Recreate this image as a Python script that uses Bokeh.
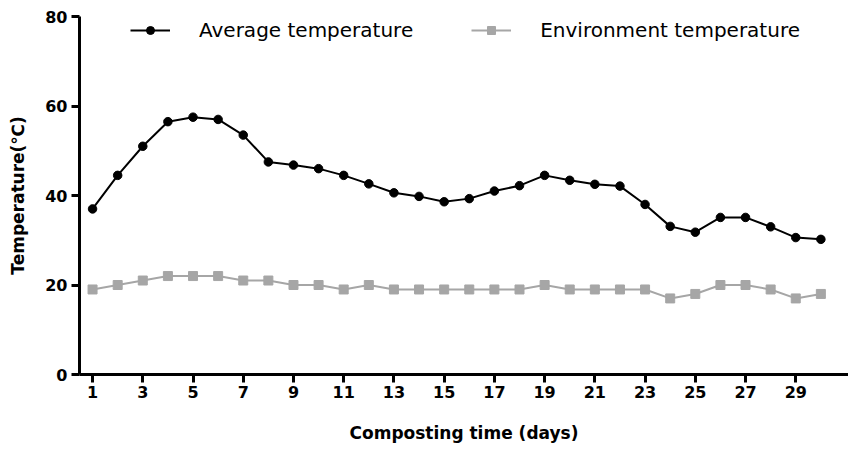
from bokeh.plotting import figure
from bokeh.models import Range1d, FixedTicker, Legend, LegendItem, ColumnDataSource
from bokeh.embed import file_html
from bokeh.resources import INLINE

days = list(range(1, 31))
avg_temp = [37.0, 44.5, 51.0, 56.5, 57.5, 57.0, 53.5, 47.5, 46.8, 46.0,
            44.5, 42.6, 40.6, 39.8, 38.6, 39.3, 41.0, 42.2, 44.5, 43.4,
            42.5, 42.1, 38.0, 33.1, 31.8, 35.1, 35.1, 33.0, 30.6, 30.2]
env_temp = [19, 20, 21, 22, 22, 22, 21, 21, 20, 20,
            19, 20, 19, 19, 19, 19, 19, 19, 20, 19,
            19, 19, 19, 17, 18, 20, 20, 19, 17, 18]
x_ticks = list(range(1, 30, 2))
y_ticks = [0, 20, 40, 60, 80]

FONT = "DejaVu Sans"

src = ColumnDataSource(dict(day=days, avg=avg_temp, env=env_temp))

p = figure(width=848, height=450, output_backend="svg", toolbar_location=None,
           x_range=Range1d(0.48, 31.1), y_range=Range1d(0, 80))
p.min_border_left = 79
p.min_border_right = 0
p.min_border_top = 16
p.min_border_bottom = 76
p.outline_line_color = None
p.xgrid.visible = False
p.ygrid.visible = False
p.background_fill_color = "white"
p.border_fill_color = "white"

env_line = p.line("day", "env", source=src, line_color="#A6A6A6", line_width=2)
env_pts = p.scatter("day", "env", source=src, marker="square", size=9,
                    fill_color="#A6A6A6", line_color="#A6A6A6")
avg_line = p.line("day", "avg", source=src, line_color="black", line_width=2)
avg_pts = p.scatter("day", "avg", source=src, marker="circle", size=8.5,
                    fill_color="black", line_color="black")

for ax in (p.xaxis[0], p.yaxis[0]):
    ax.axis_line_width = 3
    ax.axis_line_color = "black"
    ax.major_tick_line_width = 3
    ax.major_tick_line_color = "black"
    ax.major_tick_out = 8
    ax.major_tick_in = 0
    ax.minor_tick_line_color = None
    ax.major_label_text_font = FONT
    ax.major_label_text_font_style = "bold"
    ax.major_label_text_font_size = "16px"
    ax.major_label_text_color = "black"
    ax.axis_label_text_font = FONT
    ax.axis_label_text_font_style = "bold"
    ax.axis_label_text_font_size = "17px"
    ax.axis_label_text_color = "black"

p.xaxis.ticker = FixedTicker(ticks=x_ticks)
p.yaxis.ticker = FixedTicker(ticks=y_ticks)
p.xaxis.axis_label = "Composting time (days)"
p.yaxis.axis_label = "Temperature(℃)"
p.xaxis.major_label_standoff = 3
p.yaxis.major_label_standoff = 4
p.xaxis.axis_label_standoff = 22
p.yaxis.axis_label_standoff = 14

legend = Legend(items=[
    LegendItem(label="Average temperature", renderers=[avg_line, avg_pts]),
    LegendItem(label="Environment temperature", renderers=[env_line, env_pts]),
], orientation="horizontal", location=(51, 332))
legend.label_text_font = FONT
legend.label_text_font_size = "20px"
legend.label_text_color = "black"
legend.glyph_width = 40
legend.label_standoff = 29
legend.spacing = 58
legend.border_line_color = None
legend.background_fill_alpha = 0
legend.padding = 0
legend.margin = 0
p.add_layout(legend)

open("out.html", "w").write(file_html(p, INLINE))
